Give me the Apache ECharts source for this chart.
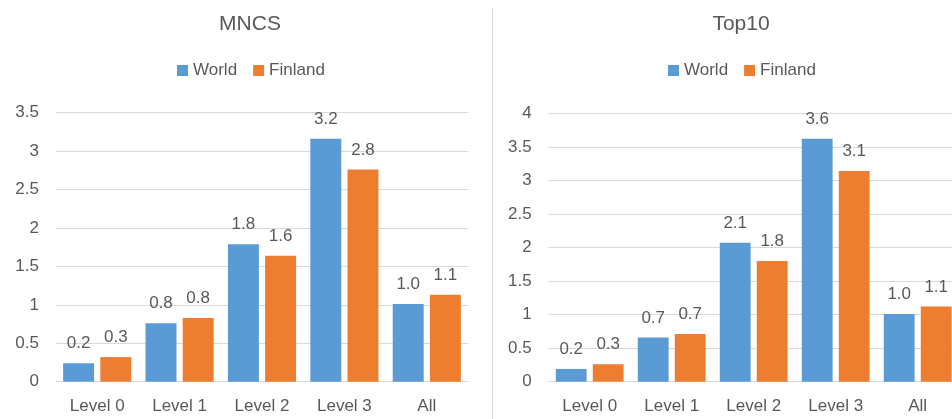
<!DOCTYPE html>
<html><head><meta charset="utf-8">
<script src="https://cdn.jsdelivr.net/npm/echarts@6/dist/echarts.min.js"></script>
<style>html,body{margin:0;padding:0;background:#fff}#c{width:952px;height:419px}</style>
</head><body><div id="c"></div>
<script>
const categories = ["Level 0", "Level 1", "Level 2", "Level 3", "All"];
const seriesNames = ["World", "Finland"];
const mncsWorld = [0.24, 0.76, 1.79, 3.16, 1.01];
const mncsFinland = [0.32, 0.83, 1.64, 2.76, 1.13];
const top10World = [0.19, 0.66, 2.07, 3.62, 1.01];
const top10Finland = [0.26, 0.71, 1.80, 3.14, 1.12];
const panelTitles = ["MNCS", "Top10"];

const FONT = "Liberation Sans";
const TXT = "#595959";
const colors = ["#5B9BD5", "#ED7D31"];

function yAxis(gi, max) {
  return {
    type: "value", gridIndex: gi, min: 0, max: max, interval: 0.5,
    axisLine: {show: false}, axisTick: {show: false},
    axisLabel: {color: TXT, fontSize: 17, fontFamily: FONT, margin: 17,
      formatter: v => String(v)},
    splitLine: {lineStyle: {color: "#D9D9D9", width: 1}}
  };
}
function xAxis(gi) {
  return {
    type: "category", gridIndex: gi, data: categories,
    axisLine: {lineStyle: {color: "#D9D9D9"}}, axisTick: {show: false},
    axisLabel: {color: TXT, fontSize: 17, fontFamily: FONT, margin: 16}
  };
}
function bar(name, data, gi, ci) {
  return {
    type: "bar", name: name, data: data, xAxisIndex: gi, yAxisIndex: gi,
    barWidth: "37.6%", barGap: "20%",
    itemStyle: {color: colors[ci]},
    label: {show: true, position: "top", distance: 11, color: TXT, fontSize: 17,
      fontFamily: FONT, formatter: p => p.value.toFixed(1)}
  };
}

const chart = echarts.init(document.getElementById("c"), null, {renderer: "canvas"});
chart.setOption({
  animation: false,
  backgroundColor: "#fff",
  title: [
    {text: panelTitles[0], left: 245, top: 9, textAlign: "center",
      textStyle: {color: TXT, fontSize: 21, fontWeight: "normal", fontFamily: FONT}},
    {text: panelTitles[1], left: 736, top: 9, textAlign: "center",
      textStyle: {color: TXT, fontSize: 21, fontWeight: "normal", fontFamily: FONT}}
  ],
  legend: [
    {data: seriesNames, left: 172, top: 57, itemWidth: 11, itemHeight: 11, itemGap: 16,
      icon: "rect", textStyle: {color: TXT, fontSize: 17, fontFamily: FONT}},
    {data: seriesNames, left: 663, top: 57, itemWidth: 11, itemHeight: 11, itemGap: 16,
      icon: "rect", textStyle: {color: TXT, fontSize: 17, fontFamily: FONT}}
  ],
  grid: [
    {left: 56, width: 412, top: 112.7, bottom: 37.3, outerBoundsMode: "none", containLabel: false},
    {left: 548.7, width: 410, top: 113.3, bottom: 37.3, outerBoundsMode: "none", containLabel: false}
  ],
  xAxis: [xAxis(0), xAxis(1)],
  yAxis: [yAxis(0, 3.5), yAxis(1, 4)],
  series: [
    bar(seriesNames[0], mncsWorld, 0, 0),
    bar(seriesNames[1], mncsFinland, 0, 1),
    bar(seriesNames[0], top10World, 1, 0),
    bar(seriesNames[1], top10Finland, 1, 1)
  ],
  graphic: [
    {type: "line", shape: {x1: 492.5, y1: 8, x2: 492.5, y2: 419},
      style: {stroke: "#D9D9D9", lineWidth: 1}}
  ]
});
</script></body></html>
